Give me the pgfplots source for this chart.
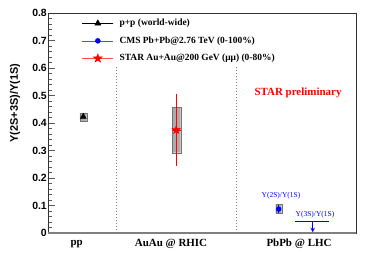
\documentclass[border=0pt]{standalone}
\usepackage{pgfplots}
\pgfplotsset{compat=1.18}
\usepackage{fontspec}
\setmainfont{Liberation Serif}
\newfontfamily\helv{Liberation Sans}
\usetikzlibrary{arrows.meta,plotmarks}
\pgfdeclareplotmark{fivestar}{%
 \pgfpathmoveto{\pgfpointpolar{90}{\pgfplotmarksize}}%
 \pgfpathlineto{\pgfpointpolar{126}{0.4\pgfplotmarksize}}%
 \pgfpathlineto{\pgfpointpolar{162}{\pgfplotmarksize}}%
 \pgfpathlineto{\pgfpointpolar{198}{0.4\pgfplotmarksize}}%
 \pgfpathlineto{\pgfpointpolar{234}{\pgfplotmarksize}}%
 \pgfpathlineto{\pgfpointpolar{270}{0.4\pgfplotmarksize}}%
 \pgfpathlineto{\pgfpointpolar{306}{\pgfplotmarksize}}%
 \pgfpathlineto{\pgfpointpolar{342}{0.4\pgfplotmarksize}}%
 \pgfpathlineto{\pgfpointpolar{18}{\pgfplotmarksize}}%
 \pgfpathlineto{\pgfpointpolar{54}{0.4\pgfplotmarksize}}%
 \pgfpathclose
 \pgfusepathqfillstroke}
\begin{document}
\begin{tikzpicture}
\path[use as bounding box] (-48bp,-35bp) rectangle (326bp,233bp);
\begin{axis}[
 at={(0,0)}, anchor=south west, scale only axis, width=308bp, height=220bp,
 xmin=0, xmax=3.08, ymin=0, ymax=0.8, clip=false,
 axis line style={black!80, line width=0.6pt},
 ytick={0,0.1,0.2,0.3,0.4,0.5,0.6,0.7,0.8}, minor y tick num=4, ytick pos=left, tick align=inside,
 major tick length=7bp, minor tick length=4bp,
 y tick style={gray!70!black, line width=0.6pt},
 yticklabel style={font=\helv\bfseries\fontsize{10.5}{12}\selectfont, inner sep=1pt},
 /pgf/number format/assume math mode=true,
 /pgf/number format/fixed,
 xtick={0.287,1.23,2.51}, xticklabels={pp, AuAu @ RHIC, PbPb @ LHC},
 x tick style={draw=none},
 xticklabel style={font=\bfseries\fontsize{11}{13}\selectfont, anchor=center, yshift=-11bp},
 legend image code/.code={\draw[mark repeat=2,mark phase=2,#1] plot coordinates {(0bp,0bp) (15.5bp,0bp) (31bp,0bp)};},
 legend cell align=left,
 legend style={at={(rel axis cs:0.110,0.980)}, anchor=north west, draw=none, fill=none,
   font=\bfseries\fontsize{9.5}{11}\selectfont, inner sep=0pt, row sep=6bp,
   nodes={inner sep=1pt, text depth=2.5bp, text height=7bp},
   /tikz/every odd column/.append style={column sep=5bp}},
]
\addlegendimage{black, line width=0.5pt, mark=triangle*, mark size=3.5pt, mark options={solid, fill=black}}
\addlegendentry{p+p (world-wide)}
\addlegendimage{blue!70, line width=0.5pt, mark=*, mark size=2.5pt, mark options={solid, fill=blue, draw=blue}}
\addlegendentry{CMS Pb+Pb@2.76 TeV (0-100\%)}
\addlegendimage{red!70, line width=0.5pt, mark=fivestar, mark size=4.5pt, mark options={solid, fill=red, draw=red}}
\addlegendentry{STAR Au+Au@200 GeV (μμ) (0-80\%)}

% bottom gray line
\addplot[gray, line width=1.5pt, forget plot] coordinates {(0,0) (3.08,0)};
% separators
\addplot[gray, dash pattern=on 1.5bp off 1.5bp, line width=0.6pt, forget plot] coordinates {(0.687,0) (0.687,0.608)};
\addplot[gray, dash pattern=on 1.5bp off 1.5bp, line width=0.6pt, forget plot] coordinates {(1.88,0) (1.88,0.608)};

% systematic boxes
\addplot[fill=gray!65, draw=gray!90!black, forget plot] coordinates {(0.32,0.408) (0.387,0.408) (0.387,0.437) (0.32,0.437) (0.32,0.408)};
\addplot[fill=gray!65, draw=gray!90!black, forget plot] coordinates {(1.243,0.292) (1.327,0.292) (1.327,0.457) (1.243,0.457) (1.243,0.292)};
\addplot[fill=gray!65, draw=gray!90!black, forget plot] coordinates {(2.277,0.072) (2.337,0.072) (2.337,0.104) (2.277,0.104) (2.277,0.072)};

% p+p
\addplot[black, only marks, mark=triangle*, mark size=3.5pt, forget plot] coordinates {(0.353,0.423)};
% STAR
\addplot[red, only marks, mark=fivestar, mark size=4.5pt, mark options={fill=red}, forget plot,
  error bars/.cd, y dir=both, y explicit, x dir=both, x explicit, error bar style={red, line width=0.6pt}, error mark=none]
  coordinates {(1.283,0.375) +- (0.042,0.132)};
% CMS 2S/1S
\addplot[blue, only marks, mark=*, mark size=2.5pt, forget plot,
  error bars/.cd, y dir=both, y explicit, error bar style={blue, line width=0.6pt}, error mark=none]
  coordinates {(2.307,0.087) +- (0,0.016)};
% CMS 3S/1S limit
\addplot[blue, line width=1pt, forget plot] coordinates {(2.47,0.041) (2.813,0.041)};
\addplot[blue, line width=0.8pt, -{Stealth[length=4.5bp,width=4.5bp]}, forget plot] coordinates {(2.647,0.041) (2.647,0.003)};

\node[blue, font=\fontsize{7.5}{9}\selectfont] at (axis cs:2.33,0.136) {Υ(2S)/Υ(1S)};
\node[blue, font=\fontsize{7.5}{9}\selectfont] at (axis cs:2.67,0.065) {Υ(3S)/Υ(1S)};
\node[red, font=\bfseries\fontsize{11}{13}\selectfont] at (axis cs:2.5,0.509) {STAR preliminary};
\path (rel axis cs:0,0.591) ++(-33bp,0) node[rotate=90, font=\helv\bfseries\fontsize{11}{13}\selectfont] {Υ(2S+3S)/Υ(1S)};
\end{axis}
\end{tikzpicture}
\end{document}
